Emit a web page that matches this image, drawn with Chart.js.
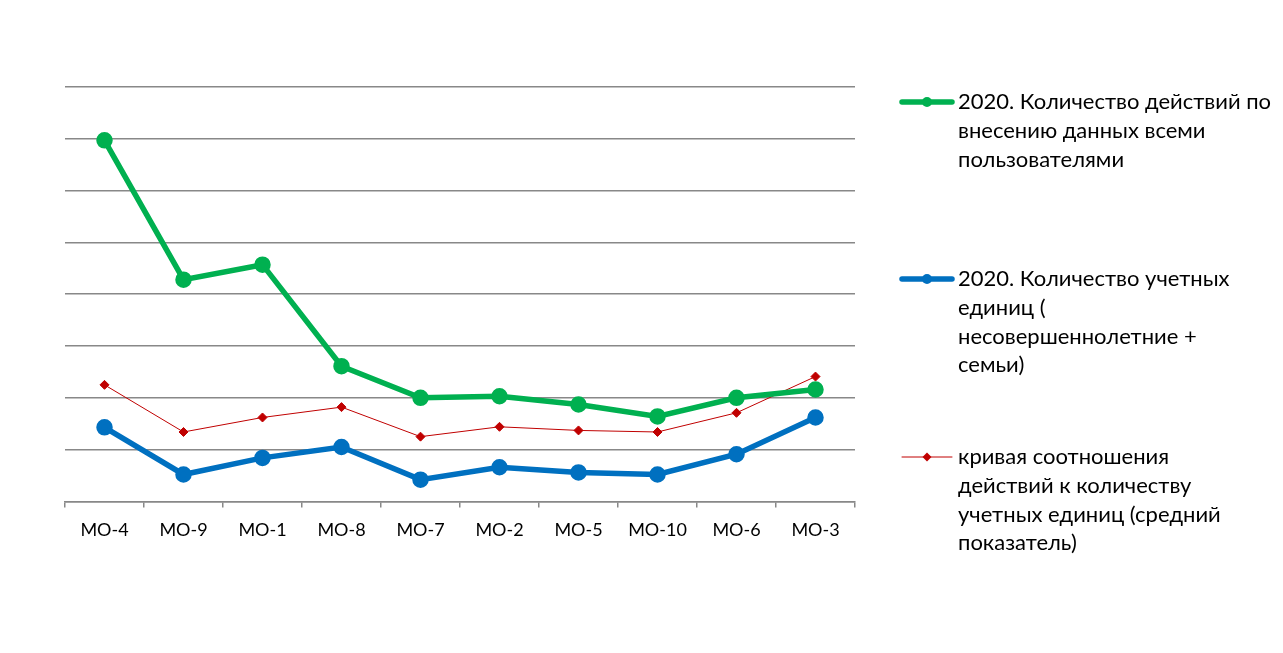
<!DOCTYPE html>
<html>
<head>
<meta charset="utf-8">
<script src="https://cdn.jsdelivr.net/npm/chart.js@4.4.1/dist/chart.umd.min.js"></script>
<style>
  body { margin: 0; background: #fff; }
  #wrap { width: 1283px; height: 653px; }
</style>
</head>
<body>
<div id="wrap"><canvas id="chartMO" width="1283" height="653"></canvas></div>
<script>
// data
const categories = ['MO-4', 'MO-9', 'MO-1', 'MO-8', 'MO-7', 'MO-2', 'MO-5', 'MO-10', 'MO-6', 'MO-3'];
const actions = [6.97, 4.28, 4.57, 2.61, 2.0, 2.03, 1.87, 1.64, 2.0, 2.16];
const units = [1.43, 0.52, 0.84, 1.05, 0.42, 0.66, 0.56, 0.52, 0.91, 1.62];
const ratio = [2.25, 1.34, 1.62, 1.82, 1.25, 1.44, 1.37, 1.34, 1.71, 2.41];
const yTicks = [0, 1, 2, 3, 4, 5, 6, 7, 8];

const legendText = [
    ['2020. Количество действий по', 'внесению данных всеми', 'пользователями'],
    ['2020. Количество учетных', 'единиц (', 'несовершеннолетние +', 'семьи)'],
    ['кривая соотношения', 'действий к количеству', 'учетных единиц (средний', 'показатель)']
];

const GREEN = '#00B050';
const BLUE = '#0070C0';
const RED = '#C00000';
const FONT = 'Lato, "Open Sans", sans-serif';

// legend drawn by hand on the right side
const sideLegend = {
    id: 'sideLegend',
    afterDraw(chart) {
        const ctx = chart.ctx;
        const tops = [102, 279, 457];
        const lineH = 28.8;
        chart.data.datasets.forEach((ds, i) => {
            const y = tops[i];
            ctx.save();
            ctx.strokeStyle = ds.borderColor;
            ctx.lineWidth = ds.borderWidth;
            ctx.lineCap = 'round';
            ctx.beginPath();
            ctx.moveTo(902, y);
            ctx.lineTo(952, y);
            ctx.stroke();
            ctx.fillStyle = ds.pointBackgroundColor;
            ctx.beginPath();
            if (ds.pointStyle === 'rectRot') {
                const r = 4.5;
                ctx.moveTo(927, y - r);
                ctx.lineTo(927 + r, y);
                ctx.lineTo(927, y + r);
                ctx.lineTo(927 - r, y);
                ctx.closePath();
            } else {
                ctx.arc(927, y, 5, 0, Math.PI * 2);
            }
            ctx.fill();
            ctx.fillStyle = '#000';
            ctx.font = '22px ' + FONT;
            ctx.textBaseline = 'middle';
            legendText[i].forEach((t, k) => ctx.fillText(t, 958, y + k * lineH));
            ctx.restore();
        });
    }
};

new Chart(document.getElementById('chartMO'), {
    type: 'line',
    data: {
        labels: categories,
        datasets: [
            {
                label: legendText[0].join(' '),
                data: actions,
                borderColor: GREEN,
                backgroundColor: GREEN,
                pointBackgroundColor: GREEN,
                pointBorderColor: GREEN,
                borderWidth: 5.5,
                pointRadius: 5.5,
                pointStyle: 'circle',
                tension: 0
            },
            {
                label: legendText[1].join(' '),
                data: units,
                borderColor: BLUE,
                backgroundColor: BLUE,
                pointBackgroundColor: BLUE,
                pointBorderColor: BLUE,
                borderWidth: 5.5,
                pointRadius: 5.5,
                pointStyle: 'circle',
                tension: 0
            },
            {
                label: legendText[2].join(' '),
                data: ratio,
                borderColor: RED,
                backgroundColor: RED,
                pointBackgroundColor: RED,
                pointBorderColor: RED,
                borderWidth: 1,
                pointRadius: 4.5,
                pointStyle: 'rectRot',
                tension: 0
            }
        ]
    },
    options: {
        responsive: false,
        animation: false,
        layout: { padding: { left: 65, right: 428, top: 87, bottom: 100 } },
        plugins: {
            legend: { display: false },
            tooltip: { enabled: false }
        },
        scales: {
            x: {
                offset: true,
                grid: {
                    display: true,
                    offset: true,
                    drawOnChartArea: false,
                    drawTicks: true,
                    tickLength: 6,
                    color: '#888',
                    lineWidth: 1.5
                },
                border: { display: true, color: '#888', width: 1.5 },
                ticks: { color: '#000', font: { family: FONT, size: 18 }, padding: 12 }
            },
            y: {
                min: yTicks[0],
                max: yTicks[yTicks.length - 1],
                afterBuildTicks: axis => { axis.ticks = yTicks.map(v => ({ value: v })); },
                grid: { color: '#888', lineWidth: 1.5, drawTicks: false },
                border: { display: false },
                ticks: { display: false }
            }
        }
    },
    plugins: [sideLegend]
});
</script>
</body>
</html>
